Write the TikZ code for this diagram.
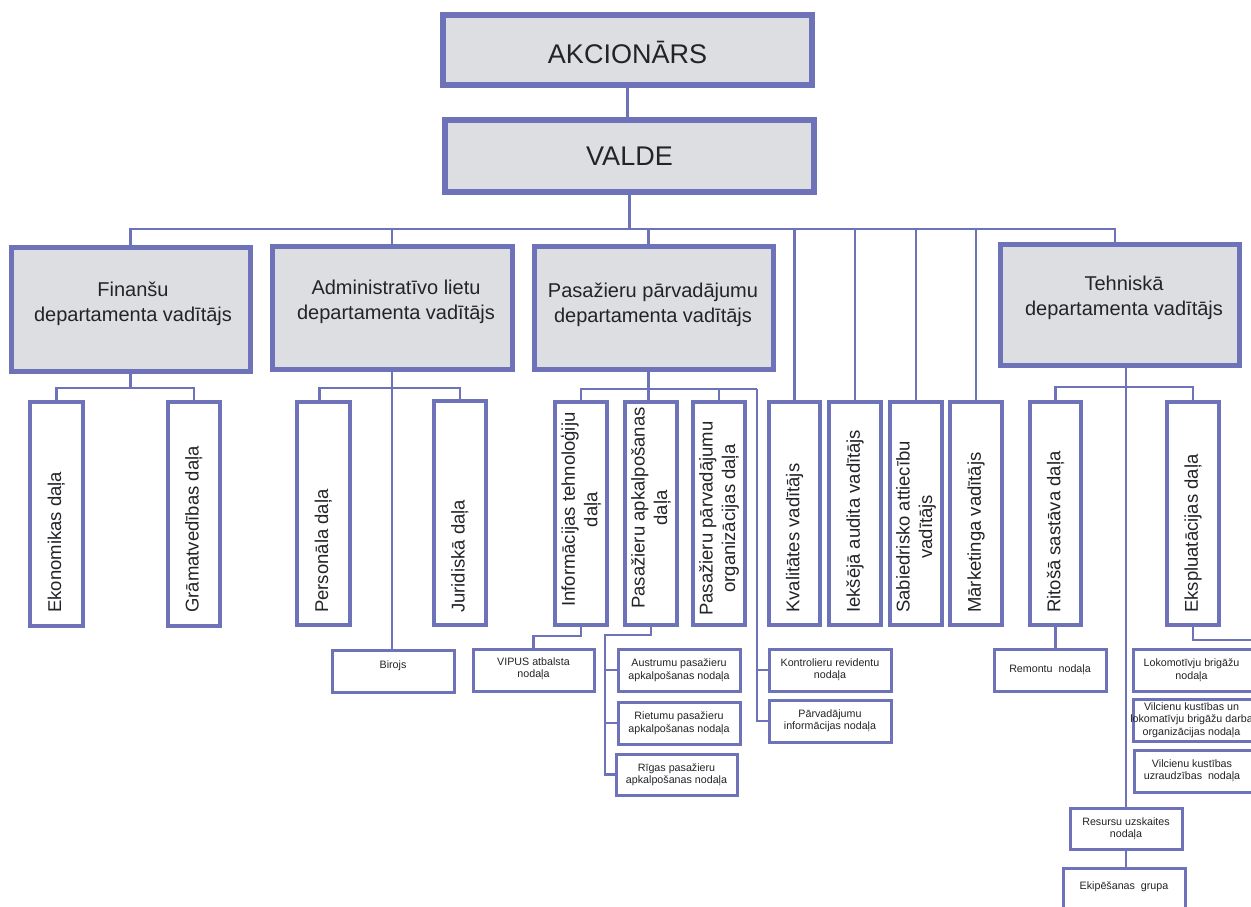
\documentclass[tikz,border=0pt]{standalone}
\usepackage{fontspec}
\setmainfont{Liberation Sans}
\usetikzlibrary{fit}
\definecolor{frame}{RGB}{110,114,184}
\definecolor{panel}{RGB}{221,222,226}
\definecolor{ink}{RGB}{35,35,40}

\begin{document}
\begin{tikzpicture}[x=1pt,y=-1pt,
  anybox/.style={draw=frame, inner sep=0pt, outer sep=0pt},
  headbox/.style={anybox, fill=panel, line width=5.5pt},
  deptbox/.style={anybox, fill=panel, line width=5pt},
  unitbox/.style={anybox, fill=white, line width=4.5pt},
  subbox/.style={anybox, fill=white, line width=3pt},
  headtxt/.style={inner sep=0pt, text=ink, font=\fontsize{27}{30}\selectfont},
  subtxt/.style={inner sep=0pt, text=ink, align=center, font=\fontsize{10.7}{12.5}\selectfont},
  link/.style={draw=frame, line width=2.4pt},
  depttxt/.style={inner sep=0pt, text=ink, align=center, font=\fontsize{20}{24.5}\selectfont},
  unittxt/.style={inner sep=0pt, text=ink, align=center, rotate=90, anchor=west,
                  font=\fontsize{18.5}{22.5}\selectfont},
]
\useasboundingbox (0,0) rectangle (1251,907);
\fill[white] (0,0) rectangle (1251,907);
\clip (0,0) rectangle (1251,907);

% ---- top level ----
\node[headbox, fit={(443,15) (812,85)}] (akc) {};
\node[headbox, fit={(445,120) (814,192)}] (valde) {};
\node[headtxt] (akc-t) at ([yshift=-2pt]akc.center) {AKCIONĀRS};
\node[headtxt] (valde-t) at (valde.center) {VALDE};

% ---- departments ----
\node[deptbox, fit={(11,247) (250,371)}] (fin) {};
\node[deptbox, fit={(272,246) (512,369)}] (adm) {};
\node[deptbox, fit={(534,246) (773,369)}] (pas) {};
\node[deptbox, fit={(1000,244) (1239,365)}] (teh) {};
\node[depttxt] (fin-t) at (133,304) {Finanšu\\departamenta vadītājs};
\node[depttxt] (adm-t) at (396,302) {Administratīvo lietu\\departamenta vadītājs};
\node[depttxt] (pas-t) at (653,305) {Pasažieru pārvadājumu\\departamenta vadītājs};
\node[depttxt] (teh-t) at (1124,298) {Tehniskā\\departamenta vadītājs};

% ---- upright units ----
\node[unitbox, fit={(30,402) (83,626)}] (eko) {};
\node[unitbox, fit={(168,402) (220,626)}] (gram) {};
\node[unitbox, fit={(297,402) (350,625)}] (pers) {};
\node[unitbox, fit={(434,401) (486,625)}] (jur) {};
\node[unitbox, fit={(555,402) (607,625)}] (info) {};
\node[unitbox, fit={(625,402) (677,625)}] (apk) {};
\node[unitbox, fit={(693,402) (745,625)}] (org) {};
\node[unitbox, fit={(769,402) (820,625)}] (kval) {};
\node[unitbox, fit={(829,402) (881,625)}] (iek) {};
\node[unitbox, fit={(890,402) (942,625)}] (sab) {};
\node[unitbox, fit={(950,402) (1002,625)}] (mark) {};
\node[unitbox, fit={(1030,402) (1081,625)}] (rit) {};
\node[unitbox, fit={(1167,402) (1219,625)}] (eks) {};

\coordinate (base) at (0,613);
\node[unittxt] (eko-t)  at (eko.center |- base) {Ekonomikas daļa};
\node[unittxt] (gram-t) at (gram.center |- base) {Grāmatvedības daļa};
\node[unittxt] (pers-t) at (pers.center |- base) {Personāla daļa};
\node[unittxt] (jur-t)  at (jur.center |- base) {Juridiskā daļa};
\node[unittxt, xshift=6pt] (info-t) at (info.center |- base) {Informācijas tehnoloģiju\\daļa};
\node[unittxt, xshift=4pt] (apk-t)  at (apk.center |- base) {Pasažieru apkalpošanas\\daļa};
\node[unittxt, xshift=-3pt] (org-t) at (org.center |- base) {Pasažieru pārvadājumu\\organizācijas daļa};
\node[unittxt] (kval-t) at (kval.center |- base) {Kvalitātes vadītājs};
\node[unittxt] (iek-t)  at (iek.center |- base) {Iekšējā audita vadītājs};
\node[unittxt] (sab-t)  at (sab.center |- base) {Sabiedrisko attiecību\\vadītājs};
\node[unittxt] (mark-t) at (mark.center |- base) {Mārketinga vadītājs};
\node[unittxt] (rit-t)  at (rit.center |- base) {Ritošā sastāva daļa};
\node[unittxt] (eks-t)  at (eks.center |- base) {Ekspluatācijas daļa};

% ---- sections ----
\node[subbox, fit={(332,650) (454,692)}] (biro) {};
\node[subbox, fit={(473,649) (594,691)}] (vipus) {};
\node[subbox, fit={(618,649) (740,691)}] (austr) {};
\node[subbox, fit={(618,702) (740,744)}] (riet) {};
\node[subbox, fit={(616,754) (737,795)}] (riga) {};
\node[subbox, fit={(769,649) (891,691)}] (kontr) {};
\node[subbox, fit={(769,700) (891,742)}] (parv) {};
\node[subbox, fit={(994,649) (1106,691)}] (remont) {};
\node[subbox, fit={(1133,649) (1256,691)}] (lok) {};
\node[subbox, fit={(1133,699) (1256,741)}] (vkust) {};
\node[subbox, fit={(1134,750) (1256,792)}] (vuzr) {};
\node[subbox, fit={(1070,808) (1182,849)}] (res) {};
\node[subbox, fit={(1063,868) (1185,912)}] (ekip) {};

\node[subtxt] (biro-t)   at ([yshift=5pt]biro.center) {Birojs};
\node[subtxt] (vipus-t)  at ([yshift=1pt]vipus.center) {VIPUS atbalsta\\nodaļa};
\node[subtxt] (austr-t)  at (austr.center) {Austrumu pasažieru\\apkalpošanas nodaļa};
\node[subtxt] (riet-t)   at (riet.center) {Rietumu pasažieru\\apkalpošanas nodaļa};
\node[subtxt] (riga-t)   at (riga.center) {Rīgas pasažieru\\apkalpošanas nodaļa};
\node[subtxt] (kontr-t)  at (kontr.center) {Kontrolieru revidentu\\nodaļa};
\node[subtxt] (parv-t)   at (parv.center) {Pārvadājumu\\informācijas nodaļa};
\node[subtxt] (remont-t) at (remont.center) {Remontu\ \ nodaļa};
\node[subtxt] (lok-t)    at ([xshift=-3pt]lok.center) {Lokomotīvju brigāžu\\nodaļa};
\node[subtxt] (vkust-t)  at ([xshift=-3pt]vkust.center) {Vilcienu kustības un\\lokomatīvju brigāžu darba\\organizācijas nodaļa};
\node[subtxt] (vuzr-t)   at ([xshift=-3pt]vuzr.center) {Vilcienu kustības\\uzraudzības\ \ nodaļa};
\node[subtxt] (res-t)    at (res.center) {Resursu uzskaites\\nodaļa};
\node[subtxt] (ekip-t)   at ([yshift=3pt]ekip.center) {Ekipēšanas\ \ grupa};

% ---- connectors ----
\coordinate (bus) at (629,229);
\coordinate (fbus) at (0,388);
\coordinate (pspine) at (757,389);
\coordinate (aspine) at (605,635);
\coordinate (tbus) at (0,387);
\coordinate (eksout) at (1266,640);

\draw[link] (akc.south) -- (akc.south |- valde.north);
\draw[link] (valde.south) -- (valde.south |- bus);
\draw[link] (fin.north) -- (fin.north |- bus) -- ([xshift=-4.5pt]teh.north |- bus) -- ([xshift=-4.5pt]teh.north);
\foreach \n in {adm,kval,iek,sab,mark}
  \draw[link] (\n.north) -- (\n.north |- bus);
\draw[link] ([xshift=-5pt]pas.north) -- ([xshift=-5pt]pas.north |- bus);

% finance
\draw[link] (fin.south) -- (fin.south |- fbus);
\draw[link] (eko.north) -- (eko.north |- fbus) -- (gram.north |- fbus) -- (gram.north);

% administration
\draw[link] ([xshift=-4pt]pers.north) -- ([xshift=-4pt]pers.north |- fbus) -- (jur.north |- fbus) -- (jur.north);
\draw[link] (adm.south) -- (adm.south |- biro.north);

% passenger transport
\draw[link] ([xshift=-5pt]pas.south) -- ([xshift=-5pt]pas.south |- apk.north);
\draw[link] (info.north) -- (info.north |- pspine) -- (pspine);
\draw[link] (org.north) -- (org.north |- pspine);
\draw[link] (pspine) |- (parv.west);
\draw[link] (pspine |- kontr.west) -- (kontr.west);
\draw[link] (info.south) -- ++(0,11) -| (vipus.north);
\draw[link] (apk.south) |- (aspine) |- (riga.west);
\draw[link] (aspine |- austr.west) -- (austr.west);
\draw[link] (aspine |- riet.west) -- (riet.west);

% technical
\draw[link] (res.north |- teh.south) -- (res.north);
\draw[link] (rit.north) -- (rit.north |- tbus) -- (eks.north |- tbus) -- (eks.north);
\draw[link] (rit.south) -- (rit.south |- remont.north);
\draw[link] (eks.south) |- (eksout) |- (vuzr.east);
\draw[link] (eksout |- lok.east) -- (lok.east);
\draw[link] (eksout |- vkust.east) -- (vkust.east);
\draw[link] (res.south) -- (res.south |- ekip.north);
\end{tikzpicture}
\end{document}
